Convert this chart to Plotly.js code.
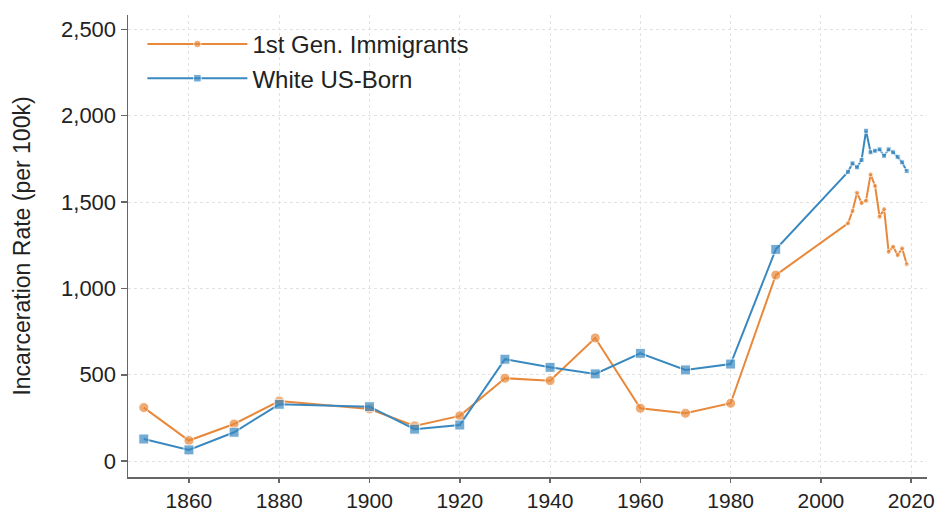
<!DOCTYPE html>
<html>
<head>
<meta charset="utf-8">
<script src="https://cdn.plot.ly/plotly-3.0.1.min.js"></script>
<style>html,body{margin:0;padding:0;background:#fff;}#chart{width:951px;height:512px;}</style>
</head>
<body>
<div id="chart"></div>
<script>
const years = [1850,1860,1870,1880,1900,1910,1920,1930,1940,1950,1960,1970,1980,1990,
  2006,2007,2008,2009,2010,2011,2012,2013,2014,2015,2016,2017,2018,2019];
const immigrants = [310,119,215,348,302,204,262,480,466,713,306,277,335,1077,
  1377,1448,1554,1494,1508,1660,1593,1415,1459,1212,1241,1193,1232,1141];
const whiteUSBorn = [128,65,167,329,315,185,209,590,543,505,624,528,562,1226,
  1675,1724,1701,1743,1913,1788,1797,1805,1768,1805,1788,1762,1730,1679];
const yTicks = [0,500,1000,1500,2000,2500];
const xTicks = [1860,1880,1900,1920,1940,1960,1980,2000,2020];

const orange = '#E8883A';
const blue = '#3A88C0';
const sizes = years.map(y => y > 2000 ? 5 : 10);

const traces = [
  {x: years, y: immigrants, name: '1st Gen. Immigrants', type: 'scatter', mode: 'lines+markers',
   line: {color: orange, width: 2}, marker: {symbol: 'circle', color: orange, size: sizes}},
  {x: years, y: whiteUSBorn, name: 'White US-Born', type: 'scatter', mode: 'lines+markers',
   line: {color: blue, width: 2}, marker: {symbol: 'square', color: blue, size: sizes}}
];

const layout = {
  width: 951, height: 512,
  margin: {l: 128, r: 24, t: 15, b: 35},
  paper_bgcolor: '#fff', plot_bgcolor: '#fff',
  font: {family: 'Liberation Sans, Arial, sans-serif', color: '#222'},
  showlegend: true,
  legend: {x: 0.018, y: 0.985, xanchor: 'left', yanchor: 'top', bgcolor: 'rgba(0,0,0,0)',
    font: {size: 24, color: '#222'}, itemwidth: 100, tracegroupgap: 0},
  xaxis: {
    range: [1846.5, 2023.5], tickvals: xTicks, ticktext: xTicks.map(String),
    showline: true, linecolor: '#666', linewidth: 1.5,
    ticks: 'outside', ticklen: 4, tickcolor: '#666', tickwidth: 1.5,
    showgrid: true, gridcolor: '#e2e2e2', griddash: 'dot', gridwidth: 1,
    zeroline: false, tickfont: {size: 21, color: '#222'}
  },
  yaxis: {
    range: [-92, 2583], tickvals: yTicks, ticktext: yTicks.map(v => v.toLocaleString('en-US')),
    showline: true, linecolor: '#666', linewidth: 1.5,
    ticks: 'outside', ticklen: 6, tickcolor: '#666', tickwidth: 1.5,
    showgrid: true, gridcolor: '#e2e2e2', griddash: 'dot', gridwidth: 1,
    zeroline: false, tickfont: {size: 22, color: '#222'},
    title: {text: 'Incarceration Rate (per 100k)', font: {size: 23, color: '#222'}, standoff: 24}
  }
};

Plotly.newPlot('chart', traces, layout, {displayModeBar: false, staticPlot: true});
</script>
</body>
</html>
